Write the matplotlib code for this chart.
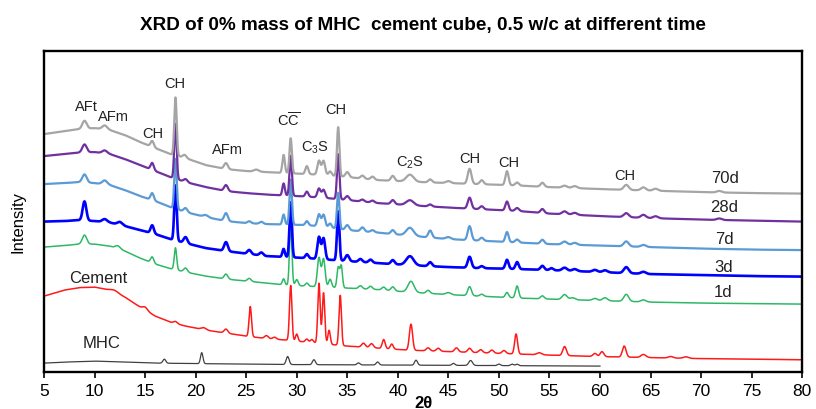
import numpy as np
import matplotlib
matplotlib.use("Agg")
import matplotlib.pyplot as plt

plt.rcParams['font.family'] = ['Liberation Sans', 'DejaVu Sans']
plt.rcParams['mathtext.fontset'] = 'custom'
plt.rcParams['mathtext.rm'] = 'Liberation Sans'
plt.rcParams['mathtext.it'] = 'Liberation Sans:italic'
plt.rcParams['mathtext.bf'] = 'Liberation Sans:bold'

# baseline anchor points (2theta, intensity a.u.)
tt = [5, 7, 8.5, 10, 11.5, 13, 14.5, 16, 17.5, 19, 21, 23, 25, 27, 29, 31, 33, 35,
      38, 41, 45, 48, 52, 55, 60, 65, 70, 75, 80]
base_70d = [238, 241, 243, 244, 242, 237, 230, 224, 218, 214, 207, 203, 201, 200, 199,
            198, 197, 195, 192, 190.5, 189, 188, 186.5, 185, 183, 181.5, 180, 179, 178.5]
base_28d = [216, 218, 219.5, 220, 218, 213, 207, 201, 195, 190, 185, 181, 179, 177.5, 176.5,
            175.5, 174, 172, 169, 167, 164.5, 163, 161, 158.5, 156, 154, 152.5, 151.5, 150.5]
base_7d = [188, 189, 190, 189, 187, 182, 176, 171, 165, 160, 155, 151, 149, 148, 147.5,
           147, 145, 142, 139.5, 136.5, 133, 131.5, 129.5, 128, 126.5, 125, 123.5, 122.5, 122]
base_3d = [150.5, 151, 152, 151, 149.5, 146, 142, 138, 133, 129, 124, 121, 118.5, 116, 115,
           114, 112.5, 111, 109, 107, 105, 104, 103, 102, 100, 98, 97, 96, 95.5]
base_1d = [125, 126.5, 128, 128, 126, 121, 114, 108, 103.5, 100, 96, 93, 91, 89, 87,
           86, 85, 84, 82.5, 80, 77.5, 76, 74, 73, 71.5, 70, 69, 68.5, 68]
base_cem = [76, 82, 84.5, 85, 82, 75, 65, 56, 50, 46, 42, 39, 36, 33.5, 32,
            30, 28, 26, 24, 22, 20.5, 19.5, 18, 17, 15.5, 14.5, 13.5, 13, 12.3]
tt_mhc = [5, 7, 10, 13, 16, 20, 25, 30, 40, 50, 60]
base_mhc = [9, 10, 11, 10, 9, 8.5, 8, 7.5, 7, 6.5, 6]

# peaks: (2theta, height above baseline, width)
pk_70d = [(9.0, 8, 0.18), (11.0, 4, 0.2), (15.7, 6, 0.13), (18.0, 58, 0.1), (18.9, 3, 0.15),
          (23.0, 6, 0.15), (26.0, 2, 0.2), (28.7, 18, 0.1), (29.4, 35, 0.1), (31.0, 8, 0.12),
          (32.2, 14, 0.13), (32.65, 14, 0.13), (33.3, 4, 0.12), (34.1, 49, 0.1), (35.0, 5, 0.15),
          (36.5, 3, 0.15), (37.5, 3, 0.15), (39.5, 5, 0.15), (41.2, 7, 0.3), (43.2, 3, 0.15),
          (45.0, 2, 0.2), (47.1, 15, 0.15), (48.3, 4, 0.15), (50.8, 14, 0.13), (51.8, 3, 0.15),
          (54.3, 4, 0.15), (56.5, 2, 0.2), (57.5, 2, 0.2), (62.6, 5, 0.2), (64.3, 3, 0.2),
          (65.5, 2, 0.2), (71.8, 1.5, 0.2)]
pk_28d = [(9.0, 8, 0.18), (11.0, 3, 0.2), (15.7, 7, 0.13), (18.0, 55, 0.1), (19.0, 3, 0.15),
          (23.0, 6, 0.15), (28.7, 12, 0.1), (29.4, 40, 0.1), (31.0, 5, 0.12), (32.2, 9, 0.13),
          (32.65, 8, 0.13), (34.1, 45, 0.1), (35.0, 4, 0.15), (36.5, 2, 0.15), (37.5, 2, 0.15),
          (39.5, 4, 0.15), (41.2, 5, 0.3), (43.2, 2, 0.15), (47.1, 11, 0.15), (48.3, 3, 0.15),
          (50.8, 9, 0.13), (51.8, 3, 0.15), (54.3, 4, 0.15), (56.5, 3, 0.2), (57.5, 2, 0.2),
          (62.6, 4, 0.2), (64.3, 3, 0.2), (65.5, 2, 0.2), (71.8, 1.5, 0.2)]
pk_7d = [(9.0, 8, 0.18), (11.0, 4, 0.2), (15.7, 7, 0.13), (18.0, 50, 0.1), (19.0, 4, 0.15),
         (21.0, 2, 0.2), (23.0, 8, 0.15), (25.3, 2, 0.15), (26.5, 2, 0.15), (28.7, 10, 0.1),
         (29.4, 45, 0.1), (31.0, 4, 0.12), (32.2, 12, 0.13), (32.65, 12, 0.13), (33.3, 4, 0.12),
         (34.1, 36, 0.1), (35.0, 5, 0.15), (36.5, 4, 0.15), (37.5, 2, 0.15), (39.5, 4, 0.15),
         (41.2, 8, 0.3), (43.2, 7, 0.15), (45.0, 2, 0.2), (47.1, 14, 0.15), (48.3, 3, 0.15),
         (50.8, 10, 0.13), (51.8, 3, 0.15), (54.3, 4, 0.15), (56.5, 3, 0.2), (57.5, 2, 0.2),
         (62.6, 5, 0.2), (64.3, 2, 0.2)]
pk_3d = [(9.0, 19, 0.15), (11.0, 3, 0.2), (12.5, 3, 0.2), (15.7, 8, 0.13), (18.0, 55, 0.1),
         (19.0, 6, 0.15), (23.0, 9, 0.15), (25.3, 4, 0.15), (26.5, 3, 0.15), (28.7, 8, 0.1),
         (29.4, 55, 0.1), (31.0, 4, 0.12), (32.2, 22, 0.13), (32.65, 21, 0.13), (34.1, 49, 0.1),
         (35.0, 6, 0.15), (36.3, 3, 0.15), (37.3, 3, 0.15), (39.5, 4, 0.15), (41.2, 9, 0.3),
         (43.2, 4, 0.15), (47.1, 11, 0.15), (48.3, 2, 0.15), (50.8, 9, 0.13), (51.8, 7, 0.13),
         (54.3, 4, 0.15), (55.2, 2, 0.15), (56.5, 3, 0.2), (57.5, 2, 0.2), (59.5, 2, 0.2),
         (60.5, 2, 0.2), (62.6, 6, 0.2), (64.3, 2, 0.2)]
pk_1d = [(9.0, 9, 0.18), (12.3, 3, 0.2), (15.7, 6, 0.13), (18.0, 22, 0.1), (19.0, 4, 0.15),
         (23.0, 5, 0.15), (25.3, 3, 0.15), (28.7, 6, 0.1), (29.4, 60, 0.1), (30.0, 6, 0.12),
         (31.0, 3, 0.12), (32.2, 29, 0.13), (32.65, 28, 0.13), (33.3, 8, 0.12), (34.1, 20, 0.1),
         (34.4, 22, 0.1), (36.3, 3, 0.15), (37.3, 3, 0.15), (38.6, 3, 0.15), (39.5, 4, 0.15),
         (41.3, 11, 0.25), (43.0, 3, 0.15), (45.0, 2, 0.2), (47.1, 9, 0.15), (48.3, 2, 0.15),
         (50.8, 5, 0.13), (51.8, 12, 0.13), (54.3, 3, 0.15), (56.5, 5, 0.2), (57.3, 2, 0.2),
         (59.5, 2, 0.2), (60.5, 3, 0.2), (62.6, 7, 0.2), (64.3, 2, 0.2)]
pk_cem = [(12.0, 2, 0.3), (15.0, 3, 0.2), (18.0, 2, 0.15), (20.8, 2, 0.2), (23.0, 4, 0.15),
          (25.4, 30, 0.1), (27.0, 3, 0.15), (27.8, 2, 0.15), (29.4, 55, 0.1), (30.0, 7, 0.1),
          (31.0, 3, 0.12), (31.5, 3, 0.12), (32.2, 60, 0.1), (32.65, 51, 0.1), (33.2, 14, 0.1),
          (34.3, 50, 0.1), (36.6, 4, 0.15), (37.4, 4, 0.15), (38.6, 9, 0.12), (39.4, 5, 0.12),
          (41.3, 26, 0.13), (43.0, 3, 0.15), (44.0, 3, 0.15), (45.8, 4, 0.15), (47.1, 4, 0.15),
          (48.2, 3, 0.15), (49.3, 3, 0.15), (50.5, 3, 0.15), (51.7, 20, 0.12), (54.0, 2, 0.2),
          (56.5, 9, 0.15), (59.5, 3, 0.15), (60.2, 5, 0.15), (62.4, 11, 0.15), (64.3, 3, 0.2),
          (67.0, 1.5, 0.2), (68.5, 1.5, 0.2)]
pk_mhc = [(16.9, 4, 0.12), (20.6, 11, 0.1), (29.1, 8, 0.12), (31.7, 5, 0.12), (36.1, 2, 0.12),
          (38.0, 3, 0.12), (41.8, 5, 0.12), (45.5, 2, 0.12), (47.2, 5, 0.15), (50.0, 1.5, 0.12),
          (51.3, 1.5, 0.12), (51.8, 1.5, 0.12)]


def pattern(x, anchors_x, anchors_y, peaks):
    y = np.interp(x, anchors_x, anchors_y)
    for c, h, w in peaks:
        w = w * 1.2
        y = y + h * np.exp(-0.5 * ((x - c) / w) ** 2)
    return y


x = np.arange(5, 80.001, 0.02)
xm = np.arange(5, 60.001, 0.02)

fig = plt.figure(figsize=(8.16, 4.10), dpi=100)
ax = fig.add_axes([0.054, 0.090, 0.929, 0.783])

ax.plot(xm, pattern(xm, tt_mhc, base_mhc, pk_mhc), color='#404040', lw=0.9)
ax.plot(x, pattern(x, tt, base_cem, pk_cem), color='#FF1A1A', lw=1.1)
ax.plot(x, pattern(x, tt, base_1d, pk_1d), color='#2DB866', lw=1.1)
ax.plot(x, pattern(x, tt, base_3d, pk_3d), color='#0000FF', lw=1.9)
ax.plot(x, pattern(x, tt, base_7d, pk_7d), color='#5B9BD5', lw=1.6)
ax.plot(x, pattern(x, tt, base_28d, pk_28d), color='#7030A0', lw=1.6)
ax.plot(x, pattern(x, tt, base_70d, pk_70d), color='#A5A5A5', lw=1.6)

# phase labels
phase_txt = ['AFt', 'AFm', 'CH', 'CH', 'AFm', r'C$\overline{\mathrm{C}}$', r'C$_3$S', 'CH',
             r'C$_2$S', 'CH', 'CH', 'CH']
phase_x = [9.2, 11.9, 15.8, 17.95, 23.15, 29.2, 31.8, 33.9, 41.2, 47.1, 50.95, 62.5]
phase_y = [266, 256, 239, 289, 223, 252, 225, 263, 210, 214, 210, 197]
for t, px, py in zip(phase_txt, phase_x, phase_y):
    ax.text(px, py, t, fontsize=10.5, ha='center', va='center', color='#222222')

# series labels
ser_txt = ['70d', '28d', '7d', '3d', '1d', 'Cement', 'MHC']
ser_x = [72.4, 72.3, 72.3, 72.2, 72.2, 10.4, 10.7]
ser_y = [195, 166, 134, 106, 81, 95, 30]
for t, px, py in zip(ser_txt, ser_x, ser_y):
    ax.text(px, py, t, fontsize=12, ha='center', va='center', color='#222222')

ax.set_xlim(5, 80)
ax.set_ylim(0, 321)
ax.set_xticks(np.arange(5, 81, 5))
ax.set_yticks([])
ax.tick_params(axis='x', direction='out', length=4, width=1.2, labelsize=12.5, pad=4)
for s in ax.spines.values():
    s.set_linewidth(1.7)

ax.set_xlabel('2θ', fontsize=12, fontweight='bold', labelpad=-2)
ax.set_ylabel('Intensity', fontsize=12)
ax.yaxis.set_label_coords(-0.024, 0.47)
ax.set_title('XRD of 0% mass of MHC  cement cube, 0.5 w/c at different time',
             fontsize=13.6, fontweight='bold', pad=16)

fig.savefig('out.png', dpi=100)
